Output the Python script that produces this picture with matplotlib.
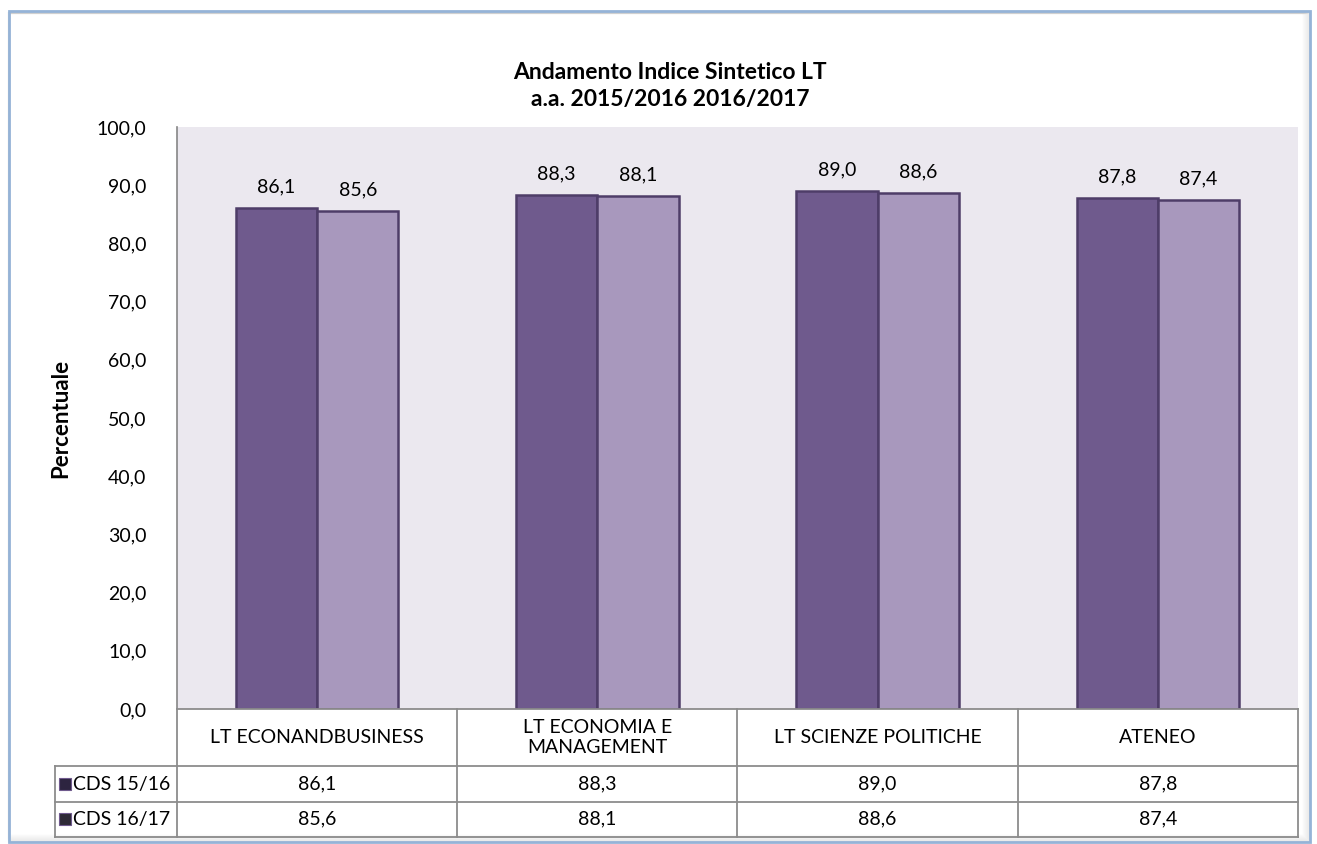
import matplotlib.pyplot as plt
from matplotlib.patches import Rectangle

categories = ["LT ECONANDBUSINESS", "LT ECONOMIA E\nMANAGEMENT", "LT SCIENZE POLITICHE", "ATENEO"]
series_names = ["CDS 15/16", "CDS 16/17"]
cds_1516 = [86.1, 88.3, 89.0, 87.8]
cds_1617 = [85.6, 88.1, 88.6, 87.4]
yticks = [0, 10, 20, 30, 40, 50, 60, 70, 80, 90, 100]

colors = ["#6f5a8d", "#a898bd"]
edge = "#4e3d68"
grid_c = "#8c8c8c"
plt.rcParams['font.family'] = ['Lato', 'DejaVu Sans']

W, H = 1317, 844
fig = plt.figure(figsize=(W / 100, H / 100), dpi=100)

def px(x0, y0, x1, y1):
    # pixel box (top-left origin) -> figure fraction
    return [x0 / W, 1 - y1 / H, (x1 - x0) / W, (y1 - y0) / H]

# outer frame with a soft shadow
for k in range(8):
    fig.add_artist(Rectangle((9 / W, (2 + k) / H), (1301 - k) / W, (829 - k) / H,
                             transform=fig.transFigure, fill=False,
                             edgecolor=(0.55, 0.55, 0.55, 0.10 - k * 0.012), lw=1.5))
fig.add_artist(Rectangle((9 / W, 2 / H), 1301 / W, 831 / H, transform=fig.transFigure,
                         fill=False, edgecolor="#95b3d7", lw=2))

ax = fig.add_axes(px(177, 127, 1298, 709))
ax.set_facecolor("#ebe8ef")
n = len(categories)
w = 0.29
xs = [i + 0.5 for i in range(n)]
b1 = ax.bar([x - w / 2 for x in xs], cds_1516, w, color=colors[0], edgecolor=edge, lw=1.8)
b2 = ax.bar([x + w / 2 for x in xs], cds_1617, w, color=colors[1], edgecolor=edge, lw=1.8)
for bars in (b1, b2):
    for r in bars:
        v = r.get_height()
        ax.annotate(f"{v:.1f}".replace(".", ","), (r.get_x() + r.get_width() / 2, v),
                    xytext=(0, 9), textcoords="offset points", ha="center", va="bottom",
                    fontsize=14)

ax.set_xlim(0, n)
ax.set_ylim(0, 100)
ax.set_yticks(yticks)
ax.set_yticklabels([f"{t:.1f}".replace(".", ",") for t in yticks], fontsize=14)
ax.tick_params(axis="y", length=0, pad=22)
ax.set_xticks([])
for s in ["top", "right", "bottom"]:
    ax.spines[s].set_visible(False)
ax.spines["left"].set_color("#868686")
ax.spines["left"].set_linewidth(1.2)
ax.set_ylabel("Percentuale", fontsize=16, fontweight="bold", labelpad=18)

fig.text(670 / W, 1 - 86 / H,
         "Andamento Indice Sintetico LT\na.a. 2015/2016 2016/2017",
         ha="center", va="center", fontsize=16.5, fontweight="bold", linespacing=1.3)

# data table under the chart
left_w = 122 / 281
tax = fig.add_axes(px(55, 709, 1298, 837))
tax.set_xlim(-left_w, n)
tax.set_ylim(127, 0)
tax.axis("off")
rows = [0, 57, 92, 127]
lk = dict(color=grid_c, lw=1.3, clip_on=False)
tax.plot([0, n], [0, 0], **lk)
for y in rows[1:]:
    tax.plot([-left_w, n], [y, y], **lk)
tax.plot([-left_w, -left_w], [rows[1], rows[3]], **lk)
for i in range(n + 1):
    tax.plot([i, i], [0, 127], **lk)
for i, c in enumerate(categories):
    tax.text(i + 0.5, rows[1] / 2, c, ha="center", va="center", fontsize=14, linespacing=1.25)
for j, (name, vals) in enumerate(zip(series_names, [cds_1516, cds_1617])):
    yc = (rows[j + 1] + rows[j + 2]) / 2
    tax.plot([-left_w + 0.035], [yc], marker="s", ms=8, color="#2d2440" if j == 0 else "#2e2a36",
             mec=colors[0], mew=0.8, clip_on=False)
    tax.text(-left_w + 0.065, yc, name, ha="left", va="center", fontsize=14)
    for i, v in enumerate(vals):
        tax.text(i + 0.5, yc, f"{v:.1f}".replace(".", ","), ha="center", va="center", fontsize=14)

fig.savefig("out.png", dpi=100)
